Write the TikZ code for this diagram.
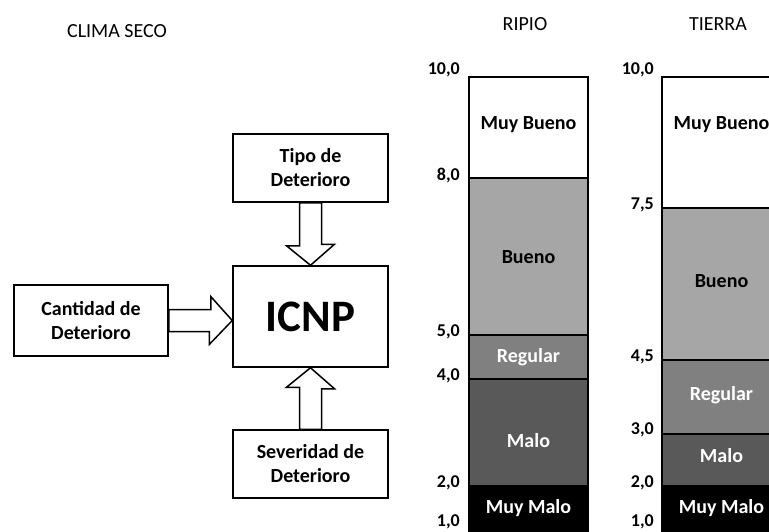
\documentclass[tikz,border=0pt]{standalone}
\usepackage{fontspec}
\setmainfont{Carlito}
\usetikzlibrary{calc}
\definecolor{buenocolor}{RGB}{166,166,166}
\definecolor{regularcolor}{RGB}{128,128,128}
\definecolor{malocolor}{RGB}{89,89,89}
\tikzstyle{block} = [rectangle, draw, line width=1.5pt, minimum width=155pt, minimum height=68pt, align=center, font=\bfseries\fontsize{20}{24}\selectfont]
\tikzstyle{bigarrow} = [draw, line width=1.5pt, fill=white, line join=miter]
\tikzstyle{segment} = [draw, line width=1.2pt]
\tikzstyle{levelnum} = [anchor=east, inner sep=0pt, font=\bfseries\fontsize{18}{20}\selectfont]
\tikzstyle{levelname} = [font=\bfseries\fontsize{20}{22}\selectfont]
\tikzstyle{header} = [font=\fontsize{20}{22}\selectfont]

\begin{document}
\begin{tikzpicture}[x=1pt, y=-1pt]
    \useasboundingbox (0,0) rectangle (769,531);
    \clip (0,0) rectangle (769,531);

    % Left: inputs of the index
    \node[header] (clima) at (117, 31) {CLIMA SECO};

    \node[block] (tipo) at (310.5, 168) {Tipo de\\Deterioro};
    \node[block, minimum height=101pt, font=\bfseries\fontsize{45}{50}\selectfont] (icnp) at (310.5, 316.5) {ICNP};
    \node[block, minimum width=154pt, minimum height=71pt] (cant) at (91, 320.5) {Cantidad de\\Deterioro};
    \node[block] (sev) at (310.5, 464) {Severidad de\\Deterioro};
    \coordinate (rtip) at (icnp.west |- cant.east);

    \draw[bigarrow] ($(tipo.south)+(-11,0)$) -- ++(0,43) -- ++(-13,0) -- (icnp.north)
        -- ($(icnp.north)+(24,-21)$) -- ++(-13,0) -- ($(tipo.south)+(11,0)$) -- cycle;
    \draw[bigarrow] ($(cant.east)+(0,-11)$) -- ++(42,0) -- ++(0,-13) -- (rtip)
        -- ($(rtip)+(-23,24)$) -- ++(0,-13) -- ($(cant.east)+(0,11)$) -- cycle;
    \draw[bigarrow] ($(sev.north)+(-11,0)$) -- ++(0,-42) -- ++(-13,0) -- (icnp.south)
        -- ($(icnp.south)+(24,21)$) -- ++(-13,0) -- ($(sev.north)+(11,0)$) -- cycle;

    % RIPIO scale
    \node[header] (ripio) at (525, 24) {RIPIO};
    \draw[segment, fill=white] (469,77) rectangle (588,178);
    \draw[segment, fill=buenocolor] (469,178) rectangle (588,335);
    \draw[segment, fill=regularcolor] (469,335) rectangle (588,379);
    \draw[segment, fill=malocolor] (469,379) rectangle (588,486);
    \draw[segment, fill=black] (469,486) rectangle (588,560);
    \node[levelname] (rmb) at (528.5, 125) {Muy Bueno};
    \node[levelname] (rb) at (528.5, 257) {Bueno};
    \node[levelname, text=white] (rr) at (528.5, 357) {Regular};
    \node[levelname, text=white] (rm) at (528.5, 441) {Malo};
    \node[levelname, text=white] (rmm) at (528.5, 508) {Muy Malo};
    \node[levelnum] (r100) at (460, 70) {10,0};
    \node[levelnum] (r80) at (460, 175) {8,0};
    \node[levelnum] (r50) at (460, 332) {5,0};
    \node[levelnum] (r40) at (460, 376) {4,0};
    \node[levelnum] (r20) at (460, 483) {2,0};
    \node[levelnum] (r10) at (460, 522) {1,0};

    % TIERRA scale
    \node[header] (tierra) at (718, 24) {TIERRA};
    \draw[segment, fill=white] (662,77) rectangle (781,208);
    \draw[segment, fill=buenocolor] (662,208) rectangle (781,360);
    \draw[segment, fill=regularcolor] (662,360) rectangle (781,434);
    \draw[segment, fill=malocolor] (662,434) rectangle (781,486);
    \draw[segment, fill=black] (662,486) rectangle (781,560);
    \node[levelname] (tmb) at (721.5, 125) {Muy Bueno};
    \node[levelname] (tb) at (721.5, 281) {Bueno};
    \node[levelname, text=white] (tr) at (721.5, 395) {Regular};
    \node[levelname, text=white] (tm) at (721.5, 456) {Malo};
    \node[levelname, text=white] (tmm) at (721.5, 508) {Muy Malo};
    \node[levelnum] (t100) at (654, 70) {10,0};
    \node[levelnum] (t75) at (654, 205) {7,5};
    \node[levelnum] (t45) at (654, 357) {4,5};
    \node[levelnum] (t30) at (654, 430) {3,0};
    \node[levelnum] (t20) at (654, 483) {2,0};
    \node[levelnum] (t10) at (654, 522) {1,0};
\end{tikzpicture}
\end{document}
